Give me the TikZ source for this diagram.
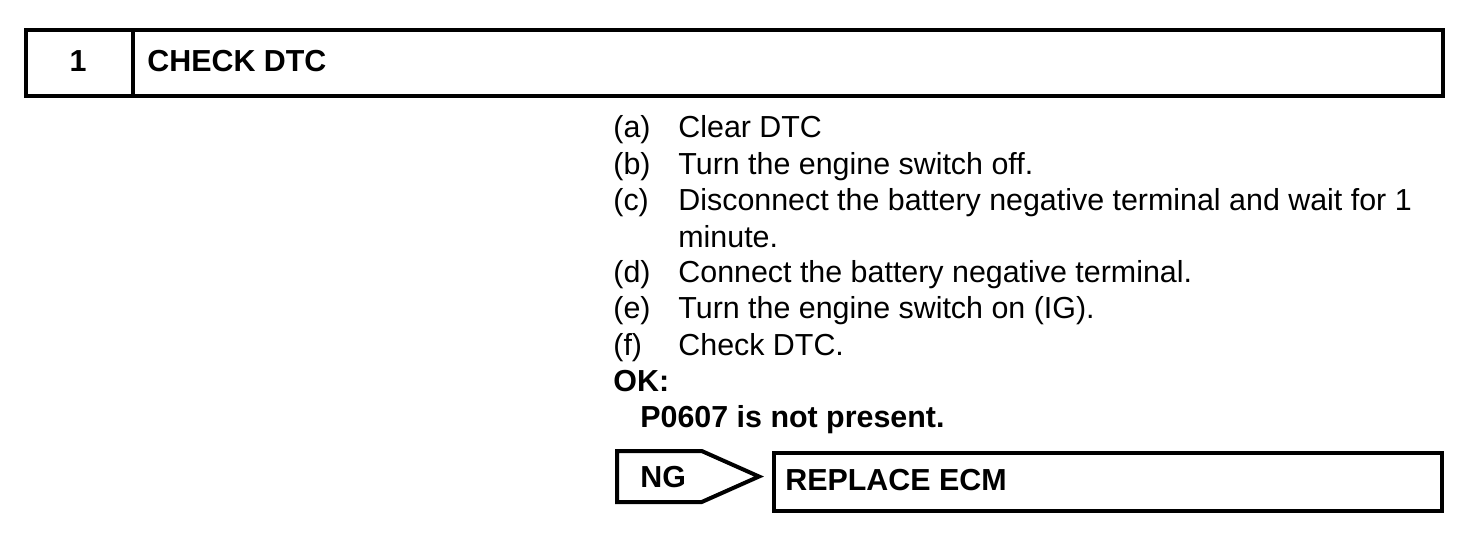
\documentclass[tikz,border=0pt]{standalone}
\usepackage{fontspec}
\setmainfont{Liberation Sans}
\usetikzlibrary{positioning,shapes.symbols}
\tikzset{frame/.style={draw,line width=2pt},
  txt/.style={inner sep=0pt,anchor=base west,font=\fontsize{15.2}{18}\selectfont},
  btxt/.style={txt,font=\fontsize{15.2}{18}\selectfont\bfseries}}
\begin{document}
\begin{tikzpicture}[x=0.5pt,y=-0.5pt]
\useasboundingbox (0,0) rectangle (1472,540);
% header
\node (head) [frame,rectangle,anchor=north west,minimum width=708.5pt,minimum height=33pt,inner sep=0pt] at (23.5,28.5) {};
\draw[line width=2pt] (133,28.5)--(133,95);
\node (num) [btxt,anchor=base] at (78,72) {1};
\node (title) [btxt] at (147,72) {CHECK DTC};
% steps
\node (la) [txt] at (613,138) {(a)};
\node (ta) [txt] at (678,138) {Clear DTC};
\node (lb) [txt] at (613,174) {(b)};
\node (tb) [txt] at (678,174) {Turn the engine switch off.};
\node (lc) [txt] at (613,210) {(c)};
\node (tc) [txt] at (678,210) {Disconnect the battery negative terminal and wait for 1};
\node (tc2) [txt] at (678,247) {minute.};
\node (ld) [txt] at (613,282) {(d)};
\node (td) [txt] at (678,282) {Connect the battery negative terminal.};
\node (le) [txt] at (613,318) {(e)};
\node (te) [txt] at (678,318) {Turn the engine switch on (IG).};
\node (lf) [txt] at (613,355) {(f)};
\node (tf) [txt] at (678,355) {Check DTC.};
\node (ok) [btxt] at (613,391) {OK:};
\node (res) [btxt] at (640,427) {P0607 is not present.};
% NG branch
\node (ng) [frame,signal,signal to=east,signal pointer angle=48,anchor=west,minimum width=71pt,minimum height=25.5pt,inner sep=0pt] at (615,476.5) {};
\node [btxt] at (640,487) {NG};
\node (ecm) [frame,rectangle,anchor=north west,minimum width=334pt,minimum height=29pt,inner sep=0pt] at (772,451) {};
\node (ecmtxt) [btxt] at (785,490) {REPLACE ECM};
\end{tikzpicture}
\end{document}
